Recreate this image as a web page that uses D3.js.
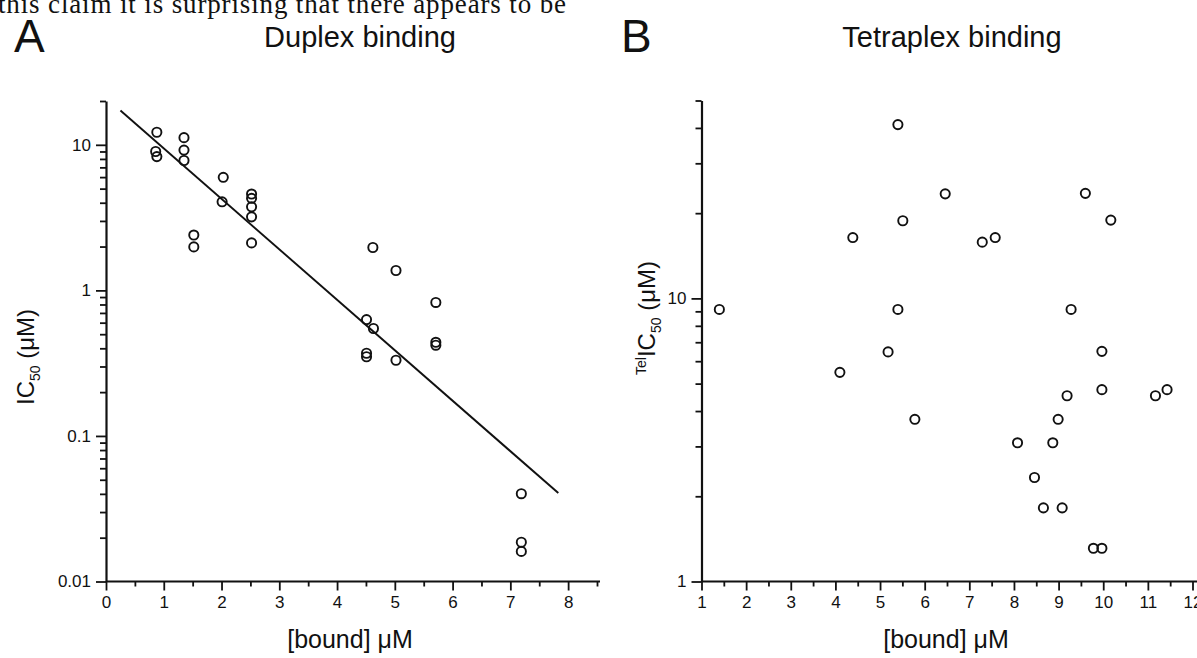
<!DOCTYPE html>
<html><head><meta charset="utf-8">
<script src="https://cdn.jsdelivr.net/npm/d3@7"></script>
<style>
body{margin:0;background:#fff}
svg{display:block}
text{font-family:"Liberation Sans",Arial,sans-serif;fill:#111}
</style>
</head><body>
<svg id="c" width="1197" height="658"></svg>
<script>
// ---------- Data ----------
// Panel A: Duplex binding
const duplexBound = [0.88, 0.86, 0.88, 1.35, 1.35, 1.35, 1.52, 1.52, 2.03, 2.01,
  2.52, 2.52, 2.52, 2.52, 2.52, 4.62, 5.02, 5.71, 4.51, 4.63, 5.71, 5.71, 4.51, 4.51, 5.02,
  7.19, 7.19, 7.19];
const duplexIC50 = [12.2, 9.0, 8.3, 11.2, 9.2, 7.8, 2.40, 1.99, 5.98, 4.06,
  4.59, 4.29, 3.75, 3.20, 2.12, 1.97, 1.37, 0.826, 0.63, 0.547, 0.44, 0.42, 0.37, 0.35, 0.331,
  0.0401, 0.0186, 0.0161];
const fitBound = [0.25, 7.83];
const fitIC50 = [17.2, 0.0405];

// Panel B: Tetraplex binding
const tetraBound = [1.40, 4.10, 4.39, 5.18, 5.40, 5.40, 5.51, 5.78, 6.46, 7.29, 7.58,
  8.08, 8.46, 8.66, 8.87, 8.99, 9.08, 9.19, 9.28, 9.60, 9.78, 9.97, 9.97, 9.97, 10.17, 11.17, 11.43];
const tetraIC50 = [9.14, 5.48, 16.4, 6.47, 41.1, 9.14, 18.8, 3.74, 23.4, 15.8, 16.4,
  3.09, 2.33, 1.82, 3.09, 3.74, 1.82, 4.53, 9.14, 23.5, 1.31, 1.31, 4.76, 6.5, 18.9, 4.53, 4.76];

// Tick labels
const aXTicks = [0, 1, 2, 3, 4, 5, 6, 7, 8];
const aYTicks = [0.01, 0.1, 1, 10];
const bXTicks = [1, 2, 3, 4, 5, 6, 7, 8, 9, 10, 11, 12];
const bYTicks = [1, 10];

const svg = d3.select("#c");

// header text fragment (cut off at top)
svg.append("text").attr("x", -2).attr("y", 13)
  .attr("textLength", 568).attr("lengthAdjust", "spacing")
  .style("font-family", '"Liberation Serif","Times New Roman",serif')
  .style("font-size", "27px")
  .text("this claim it is surprising that there appears to be");

function logMinors(lo, hi) {
  const out = [];
  for (let e = Math.floor(Math.log10(lo)); e <= Math.ceil(Math.log10(hi)); e++) {
    for (let m = 2; m <= 9; m++) {
      const v = m * Math.pow(10, e);
      if (v >= lo * 0.999 && v <= hi * 1.001) out.push(v);
    }
  }
  return out;
}

function drawPanel(cfg) {
  const g = svg.append("g");
  const x = d3.scaleLinear().domain(cfg.xDomain).range(cfg.xRange);
  const y = d3.scaleLog().domain(cfg.yDomain).range(cfg.yRange);
  const y0 = cfg.yRange[0], x0 = cfg.xRange[0];

  // minor ticks
  const xMin = d3.range(cfg.xDomain[0] + 0.5, cfg.xDomain[1] + 0.01, 1);
  g.append("g").attr("transform", `translate(0,${y0})`)
    .call(d3.axisBottom(x).tickValues(xMin).tickSize(5).tickFormat(""))
    .call(s => s.select(".domain").remove());
  g.append("g").attr("transform", `translate(${x0},0)`)
    .call(d3.axisLeft(y).tickValues(logMinors(cfg.yDomain[0], cfg.yDomain[1])).tickSize(6).tickFormat(""))
    .call(s => s.select(".domain").remove());

  // major axes
  const xa = g.append("g").attr("transform", `translate(0,${y0})`)
    .call(d3.axisBottom(x).tickValues(cfg.xTicks).tickSize(9).tickSizeOuter(0).tickPadding(5)
      .tickFormat(d3.format("d")));
  if (cfg.xAxisEnd) xa.select(".domain").attr("d", `M${x0},0H${cfg.xAxisEnd}`);
  g.append("g").attr("transform", `translate(${x0},0)`)
    .call(d3.axisLeft(y).tickValues(cfg.yTicks).tickSize(10).tickSizeOuter(0).tickPadding(5)
      .tickFormat(d => String(d)));

  g.selectAll(".domain").attr("stroke", "#111").attr("stroke-width", 2.2);
  g.selectAll(".tick line").attr("stroke", "#111").attr("stroke-width", 1.8);
  g.selectAll(".tick text").style("font-size", "17px").attr("fill", "#111");

  // fit line
  if (cfg.fit) {
    const pts = cfg.fit[0].map((v, i) => [v, cfg.fit[1][i]]);
    g.append("path").datum(pts)
      .attr("d", d3.line().x(d => x(d[0])).y(d => y(d[1])))
      .attr("stroke", "#111").attr("stroke-width", 1.9).attr("fill", "none");
  }

  // points
  const pts = cfg.xs.map((v, i) => [v, cfg.ys[i]]);
  g.selectAll("circle.pt").data(pts).join("circle").attr("class", "pt")
    .attr("cx", d => x(d[0])).attr("cy", d => y(d[1])).attr("r", 4.6)
    .attr("fill", "none").attr("stroke", "#111").attr("stroke-width", 1.9);

  // panel letter + title
  svg.append("text").attr("x", cfg.letterX).attr("y", 52).style("font-size", "46px").text(cfg.letter);
  svg.append("text").attr("x", cfg.titleX).attr("y", 47).attr("text-anchor", "middle")
    .style("font-size", "29px").text(cfg.title);

  // x title
  svg.append("text").attr("x", cfg.xTitleX).attr("y", 648).attr("text-anchor", "middle")
    .style("font-size", "25px").text("[bound] \u03bcM");

  // y title
  const yt = svg.append("text")
    .attr("transform", `translate(${cfg.yTitleX},${cfg.yTitleY}) rotate(-90)`)
    .attr("text-anchor", "middle").style("font-size", "24px");
  if (cfg.tel) {
    yt.append("tspan").attr("dy", -9).style("font-size", "14px").text("Tel");
    yt.append("tspan").attr("dy", 9).text("IC");
  } else {
    yt.append("tspan").text("IC");
  }
  yt.append("tspan").attr("dy", 6).style("font-size", "14px").text("50");
  yt.append("tspan").attr("dy", -6).text(" (\u03bcM)");
}

drawPanel({
  xDomain: [0, 8.5], xRange: [106, 597], xAxisEnd: 600,
  yDomain: [0.01, 20], yRange: [581.5, 101],
  xTicks: aXTicks, yTicks: aYTicks,
  xs: duplexBound, ys: duplexIC50, fit: [fitBound, fitIC50],
  letter: "A", letterX: 14, title: "Duplex binding", titleX: 360,
  xTitleX: 350, yTitleX: 34, yTitleY: 357, tel: false
});

drawPanel({
  xDomain: [1, 12], xRange: [701.5, 1192.5], xAxisEnd: 1197,
  yDomain: [1, 50], yRange: [581.5, 100.5],
  xTicks: bXTicks, yTicks: bYTicks,
  xs: tetraBound, ys: tetraIC50,
  letter: "B", letterX: 621, title: "Tetraplex binding", titleX: 952,
  xTitleX: 946, yTitleX: 655, yTitleY: 318, tel: true
});
</script>
</body></html>
